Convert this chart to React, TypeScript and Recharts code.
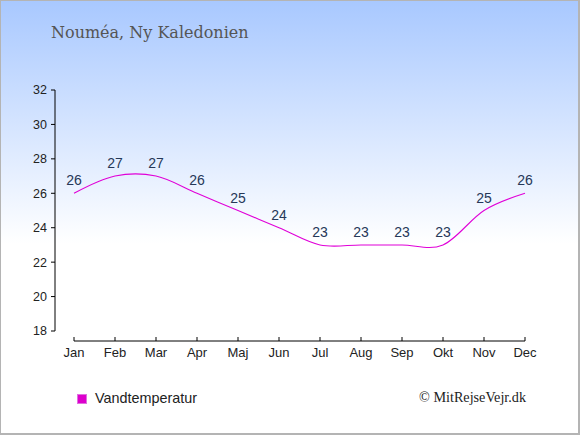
import { LineChart, Line, XAxis, YAxis, LabelList } from "recharts";

const months = ["Jan", "Feb", "Mar", "Apr", "Maj", "Jun", "Jul", "Aug", "Sep", "Okt", "Nov", "Dec"];
const waterTemp = [26, 27, 27, 26, 25, 24, 23, 23, 23, 23, 25, 26];
const yTicks = [18, 20, 22, 24, 26, 28, 30, 32];

const data = months.map((month, i) => ({ month, temp: waterTemp[i] }));

const SANS = "'Liberation Sans', Arial, sans-serif";

// cardinal spline (tension 0), same maths as d3's curveCardinal
function cardinal(context: any) {
  const k = 1 / 6;
  let x0 = NaN, x1 = NaN, x2 = NaN, y0 = NaN, y1 = NaN, y2 = NaN;
  let pt = 0;
  let line = NaN;

  function seg(x: number, y: number) {
    context.bezierCurveTo(
      x1 + k * (x2 - x0),
      y1 + k * (y2 - y0),
      x2 + k * (x1 - x),
      y2 + k * (y1 - y),
      x2,
      y2
    );
  }

  return {
    areaStart() {
      line = 0;
    },
    areaEnd() {
      line = NaN;
    },
    lineStart() {
      x0 = x1 = x2 = y0 = y1 = y2 = NaN;
      pt = 0;
    },
    lineEnd() {
      if (pt === 2) context.lineTo(x2, y2);
      else if (pt === 3) seg(x1, y1);
      if (line || (line !== 0 && pt === 1)) context.closePath();
      line = 1 - line;
    },
    point(x: number, y: number) {
      x = +x;
      y = +y;
      if (pt === 0) {
        pt = 1;
        if (line) context.lineTo(x, y);
        else context.moveTo(x, y);
      } else if (pt === 1) {
        pt = 2;
        x1 = x;
        y1 = y;
      } else {
        pt = 3;
        seg(x, y);
      }
      x0 = x1; x1 = x2; x2 = x;
      y0 = y1; y1 = y2; y2 = y;
    },
  };
}

export default function App() {
  return (
    <div
      style={{
        position: "fixed",
        left: 0,
        top: 0,
        width: 580,
        height: 435,
        background: "linear-gradient(to bottom, #a8c8ff 0%, #ffffff 56%, #ffffff 100%)",
        overflow: "hidden",
      }}
    >
      <LineChart
        width={580}
        height={435}
        data={data}
        margin={{ top: 90, right: 55, bottom: 64, left: 0 }}
        style={{ position: "absolute", left: 0, top: 0 }}
      >
        <XAxis xAxisId="gap" dataKey="month" height={10} tick={false} axisLine={false} tickLine={false} />
        <XAxis
          xAxisId="main"
          dataKey="month"
          height={30}
          interval={0}
          tickSize={-4}
          tickMargin={11}
          axisLine={{ stroke: "#000" }}
          tickLine={{ stroke: "#000" }}
          tick={{ fill: "#222", fontSize: 13, fontFamily: SANS }}
        />
        <YAxis
          yAxisId="gap"
          width={19}
          domain={[18, 32]}
          ticks={yTicks}
          tick={false}
          axisLine={false}
          tickLine={false}
        />
        <YAxis
          yAxisId="main"
          width={55}
          domain={[18, 32]}
          ticks={yTicks}
          interval={0}
          tickSize={4}
          tickMargin={4}
          axisLine={{ stroke: "#000" }}
          tickLine={{ stroke: "#000" }}
          tick={{ fill: "#222", fontSize: 12.5, fontFamily: SANS }}
        />
        <Line
          xAxisId="main"
          yAxisId="main"
          dataKey="temp"
          type={cardinal as any}
          stroke="#e000d8"
          strokeWidth={1.1}
          dot={false}
          activeDot={false}
          isAnimationActive={false}
        >
          <LabelList
            dataKey="temp"
            position="top"
            offset={8}
            fill="#263858"
            fontSize={14}
            fontFamily={SANS}
          />
        </Line>
      </LineChart>

      <svg
        width={580}
        height={435}
        style={{ position: "absolute", left: 0, top: 0, pointerEvents: "none" }}
      >
        <text x={51} y={38} fontFamily="'DejaVu Serif', serif" fontSize={16} fill="#555">
          Nouméa, Ny Kaledonien
        </text>
        <rect x={77.5} y={394.5} width={9} height={9} fill="#dd00cc" stroke="#e070e0" />
        <text x={95} y={403} fontFamily={SANS} fontSize={14.4} fill="#222">
          Vandtemperatur
        </text>
        <text x={526} y={402} textAnchor="end" fontFamily="'Liberation Serif', serif" fontSize={14.2} fill="#222">
          © MitRejseVejr.dk
        </text>
      </svg>

      <div
        style={{
          position: "absolute",
          inset: 0,
          boxSizing: "border-box",
          borderStyle: "solid",
          borderColor: "#b4b4b4",
          borderWidth: "1px 2px 2px 1px",
          pointerEvents: "none",
        }}
      />
    </div>
  );
}
